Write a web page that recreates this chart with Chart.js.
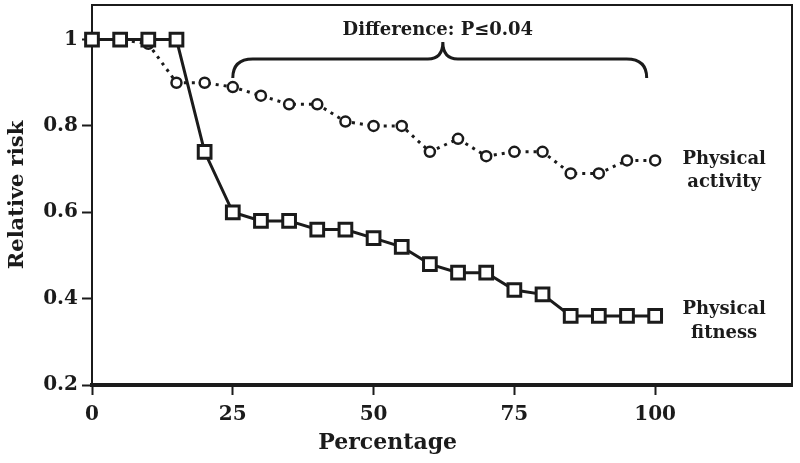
<!DOCTYPE html>
<html>
<head>
<meta charset="utf-8">
<script src="https://cdn.jsdelivr.net/npm/chart.js@4/dist/chart.umd.min.js"></script>
<style>
  html, body { margin: 0; padding: 0; background: #fff; }
  #wrap { width: 800px; height: 463px; position: relative; }
</style>
</head>
<body>
<div id="wrap"><canvas id="riskChart"></canvas></div>
<script>
// data
const percentages = [0, 5, 10, 15, 20, 25, 30, 35, 40, 45, 50, 55, 60, 65, 70, 75, 80, 85, 90, 95, 100];
const fitnessRisk = [1, 1, 1, 1, 0.74, 0.60, 0.58, 0.58, 0.56, 0.56, 0.54, 0.52, 0.48, 0.46, 0.46, 0.42, 0.41, 0.36, 0.36, 0.36, 0.36];
const activityRisk = [1, 1, 0.99, 0.90, 0.90, 0.89, 0.87, 0.85, 0.85, 0.81, 0.80, 0.80, 0.74, 0.77, 0.73, 0.74, 0.74, 0.69, 0.69, 0.72, 0.72];
const xTicks = [0, 25, 50, 75, 100];
const yTicks = [0.2, 0.4, 0.6, 0.8, 1];
const seriesLabels = [['Physical', 'fitness'], ['Physical', 'activity']];
const diffLabel = 'Difference: P\u22640.04';

const INK = '#1b1b1b';
const SERIF = "'DejaVu Serif', 'Liberation Serif', serif";

const toPoints = vals => vals.map((v, i) => ({ x: percentages[i], y: v }));

// no extra label padding, the plot box is fixed
const noPad = s => { s.paddingTop = 0; s.paddingBottom = 0; s.paddingLeft = 0; s.paddingRight = 0; };

// frame, brace, side labels and x title
const decorPlugin = {
  id: 'decor',
  afterDraw(chart) {
    const { ctx, chartArea: a, scales: { x, y } } = chart;
    ctx.save();
    ctx.strokeStyle = INK;
    ctx.fillStyle = INK;

    // top + right frame
    ctx.lineWidth = 2;
    ctx.beginPath();
    ctx.moveTo(a.left, a.top);
    ctx.lineTo(a.right, a.top);
    ctx.lineTo(a.right, a.bottom);
    ctx.stroke();

    // brace over 25..100
    const xl = x.getPixelForValue(25), xr = x.getPixelForValue(98.5), xm = x.getPixelForValue(62.3);
    const yEnd = 78, yBar = 59, yTip = 42;
    ctx.lineWidth = 3;
    ctx.beginPath();
    ctx.moveTo(xl, yEnd);
    ctx.quadraticCurveTo(xl, yBar, xl + 20, yBar);
    ctx.lineTo(xm - 15, yBar);
    ctx.quadraticCurveTo(xm, yBar, xm, yTip);
    ctx.quadraticCurveTo(xm, yBar, xm + 15, yBar);
    ctx.lineTo(xr - 20, yBar);
    ctx.quadraticCurveTo(xr, yBar, xr, yEnd);
    ctx.stroke();

    ctx.textAlign = 'center';
    ctx.textBaseline = 'alphabetic';
    ctx.font = 'bold 18px ' + SERIF;
    ctx.fillText(diffLabel, xm - 5, 35);

    // series labels to the right of the last points
    ctx.font = 'bold 18px ' + SERIF;
    ctx.textBaseline = 'middle';
    const lx = x.getPixelForValue(100) + 69;
    const fy = y.getPixelForValue(fitnessRisk[fitnessRisk.length - 1]) - 7;
    const ay = y.getPixelForValue(activityRisk[activityRisk.length - 1]) - 1;
    ctx.fillText(seriesLabels[0][0], lx, fy);
    ctx.fillText(seriesLabels[0][1], lx, fy + 24);
    ctx.fillText(seriesLabels[1][0], lx, ay);
    ctx.fillText(seriesLabels[1][1], lx, ay + 23);

    // x title, centred under the 0-100 range
    ctx.font = 'bold 22px ' + SERIF;
    ctx.fillText('Percentage', x.getPixelForValue(52.5), 443);
    ctx.restore();
  }
};

new Chart(document.getElementById('riskChart'), {
  type: 'line',
  data: {
    datasets: [
      {
        label: 'Physical fitness',
        data: toPoints(fitnessRisk),
        borderColor: INK,
        borderWidth: 3,
        pointStyle: 'rect',
        pointRadius: 9,
        pointBorderWidth: 3,
        pointBorderColor: INK,
        pointBackgroundColor: '#fff',
        tension: 0,
        clip: false
      },
      {
        label: 'Physical activity',
        data: toPoints(activityRisk),
        borderColor: INK,
        borderWidth: 3,
        borderDash: [3, 5],
        pointStyle: 'circle',
        pointRadius: 5,
        pointBorderWidth: 2.5,
        pointBorderColor: INK,
        pointBackgroundColor: '#fff',
        tension: 0,
        clip: false
      }
    ]
  },
  options: {
    responsive: true,
    maintainAspectRatio: false,
    animation: false,
    layout: { autoPadding: false, padding: { top: 5, right: 8, left: 0, bottom: 0 } },
    plugins: { legend: { display: false }, tooltip: { enabled: false } },
    scales: {
      x: {
        type: 'linear',
        min: 0,
        max: 124.3,
        afterBuildTicks: s => { s.ticks = xTicks.map(v => ({ value: v })); },
        afterFit: s => { s.height = 78; noPad(s); },
        ticks: { color: INK, padding: 8, font: { family: SERIF, size: 20, weight: 'bold' } },
        grid: { drawOnChartArea: false, drawTicks: true, tickLength: 10, tickWidth: 2, tickColor: INK },
        border: { color: INK, width: 4 }
      },
      y: {
        min: 0.2,
        max: 1.08,
        afterBuildTicks: s => { s.ticks = yTicks.map(v => ({ value: v })); },
        afterFit: s => { s.width = 92; noPad(s); },
        ticks: {
          color: INK,
          padding: 4,
          font: { family: SERIF, size: 20, weight: 'bold' },
          callback: v => (v === 1 ? '1' : v.toFixed(1))
        },
        grid: { drawOnChartArea: false, drawTicks: true, tickLength: 10, tickWidth: 2, tickColor: INK },
        border: { color: INK, width: 2 },
        title: {
          display: true,
          text: 'Relative risk',
          color: INK,
          padding: { top: 5, bottom: 0 },
          font: { family: SERIF, size: 21, weight: 'bold' }
        }
      }
    }
  },
  plugins: [decorPlugin]
});
</script>
</body>
</html>
